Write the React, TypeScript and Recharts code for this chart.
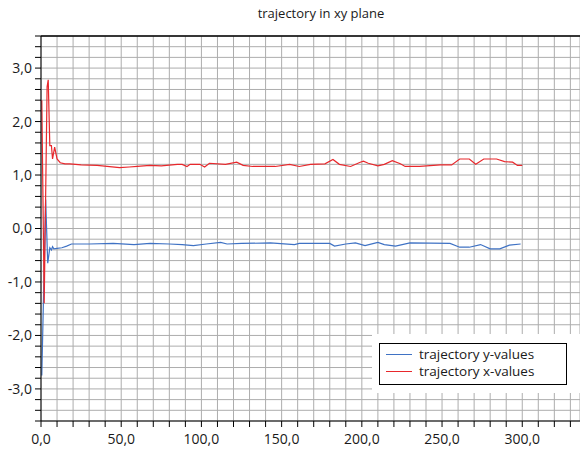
import { LineChart, Line, XAxis, YAxis, CartesianGrid, ReferenceLine } from "recharts";

// trajectory x-values (red)
const xTimes = [0.5, 2, 3.8, 4.5, 5.5, 6.5, 7.2, 8.5, 10, 12, 15, 18, 25, 35, 49, 55, 60, 68, 75, 85, 88, 91, 93, 99, 102, 105, 115, 122, 126, 132, 146, 155, 161, 168, 177, 182, 186, 193, 199, 201, 204, 210, 214, 219, 224, 227, 236, 249, 256, 261, 267, 271, 276, 284, 289, 294, 297, 300];
const xValues = [2.4, -1.4, 2.65, 2.78, 1.55, 1.55, 1.3, 1.52, 1.3, 1.23, 1.21, 1.21, 1.19, 1.18, 1.14, 1.15, 1.16, 1.18, 1.17, 1.2, 1.2, 1.16, 1.2, 1.2, 1.15, 1.22, 1.2, 1.24, 1.18, 1.16, 1.16, 1.2, 1.16, 1.2, 1.21, 1.29, 1.2, 1.16, 1.24, 1.26, 1.22, 1.17, 1.2, 1.27, 1.21, 1.16, 1.16, 1.19, 1.19, 1.3, 1.3, 1.2, 1.3, 1.3, 1.25, 1.24, 1.18, 1.18];

// trajectory y-values (blue)
const yTimes = [0.5, 2.9, 4.2, 5.5, 6.5, 7.2, 8, 10, 13, 16, 19, 30, 45, 58, 68, 80, 88, 95, 103, 112, 116, 125, 143, 158, 161, 180, 183, 190, 196, 202, 210, 214, 221, 230, 255, 261, 267, 274, 280, 286, 292, 299];
const yValues = [-2.75, 0.54, -0.65, -0.36, -0.4, -0.34, -0.38, -0.37, -0.36, -0.33, -0.29, -0.29, -0.28, -0.3, -0.28, -0.29, -0.3, -0.32, -0.29, -0.26, -0.29, -0.28, -0.27, -0.3, -0.28, -0.28, -0.33, -0.29, -0.27, -0.32, -0.26, -0.3, -0.33, -0.27, -0.28, -0.35, -0.35, -0.3, -0.38, -0.38, -0.31, -0.29];

const xTicks = [0, 10, 20, 30, 40, 50, 60, 70, 80, 90, 100, 110, 120, 130, 140, 150, 160, 170, 180, 190, 200, 210, 220, 230, 240, 250, 260, 270, 280, 290, 300, 310, 320, 330];
const yTicks = [-3.6, -3.4, -3.2, -3.0, -2.8, -2.6, -2.4, -2.2, -2.0, -1.8, -1.6, -1.4, -1.2, -1.0, -0.8, -0.6, -0.4, -0.2, 0, 0.2, 0.4, 0.6, 0.8, 1.0, 1.2, 1.4, 1.6, 1.8, 2.0, 2.2, 2.4, 2.6, 2.8, 3.0, 3.2, 3.4, 3.6];

const FONT = "'Open Sans', sans-serif";

const redData = xTimes.map((t, i) => ({ t, v: xValues[i] }));
const blueData = yTimes.map((t, i) => ({ t, v: yValues[i] }));

// comma decimal labels, only on majors
const fmtX = (v: number) => (v % 50 === 0 ? v.toFixed(1).replace(".", ",") : "");
const fmtY = (v: number) =>
  Math.abs(Math.round(v * 10) % 10) === 0 ? (Math.round(v * 10) / 10).toFixed(1).replace(".", ",") : "";

const series = [
  { name: "trajectory y-values", color: "#3f72c4" },
  { name: "trajectory x-values", color: "#e8282c" },
];

export default function App() {
  return (
    <div style={{ position: "absolute", left: 0, top: 0, width: 580, height: 451, background: "#fff", fontFamily: FONT }}>
      <LineChart width={580} height={451} margin={{ top: 36, right: 0, bottom: 0, left: 0 }}>
        <CartesianGrid stroke="#adadad" strokeWidth={1} />
        <XAxis
          type="number"
          dataKey="t"
          domain={[0, 336]}
          ticks={xTicks}
          tickFormatter={fmtX}
          allowDataOverflow
          height={30}
          tickSize={6}
          tickMargin={7}
          interval={0}
          stroke="#000"
          tick={{ fill: "#1a1a1a", fontSize: 14, fontFamily: FONT }}
        />
        <YAxis
          type="number"
          dataKey="v"
          domain={[-3.6, 3.6]}
          ticks={yTicks}
          tickFormatter={fmtY}
          allowDataOverflow
          width={41}
          tickSize={6}
          tickMargin={3}
          interval={0}
          stroke="#000"
          tick={{ fill: "#1a1a1a", fontSize: 14, fontFamily: FONT }}
        />
        <ReferenceLine y={3.6} stroke="#000" strokeWidth={1.5} />
        <Line data={blueData} dataKey="v" type="linear" stroke={series[0].color} strokeWidth={1.2} dot={false} isAnimationActive={false} />
        <Line data={redData} dataKey="v" type="linear" stroke={series[1].color} strokeWidth={1.2} dot={false} isAnimationActive={false} />
      </LineChart>
      <div style={{ position: "absolute", left: 221, top: 4, width: 200, textAlign: "center", fontSize: 13, color: "#1a1a1a" }}>
        trajectory in xy plane
      </div>
      <div style={{ position: "absolute", left: 372, top: 334, width: 208, height: 59, background: "#fff" }}>
        <div
          style={{
            position: "absolute",
            left: 7,
            top: 9,
            width: 186,
            height: 40,
            border: "1px solid #000",
            fontSize: 13.5,
            color: "#1a1a1a",
          }}
        >
          {series.map((s, i) => (
            <div key={s.name} style={{ position: "absolute", left: 6, top: 2 + i * 17, height: 17, display: "flex", alignItems: "center" }}>
              <div style={{ width: 26, height: 1.5, background: s.color }} />
              <span style={{ marginLeft: 7, lineHeight: "17px", whiteSpace: "nowrap" }}>{s.name}</span>
            </div>
          ))}
        </div>
      </div>
    </div>
  );
}
